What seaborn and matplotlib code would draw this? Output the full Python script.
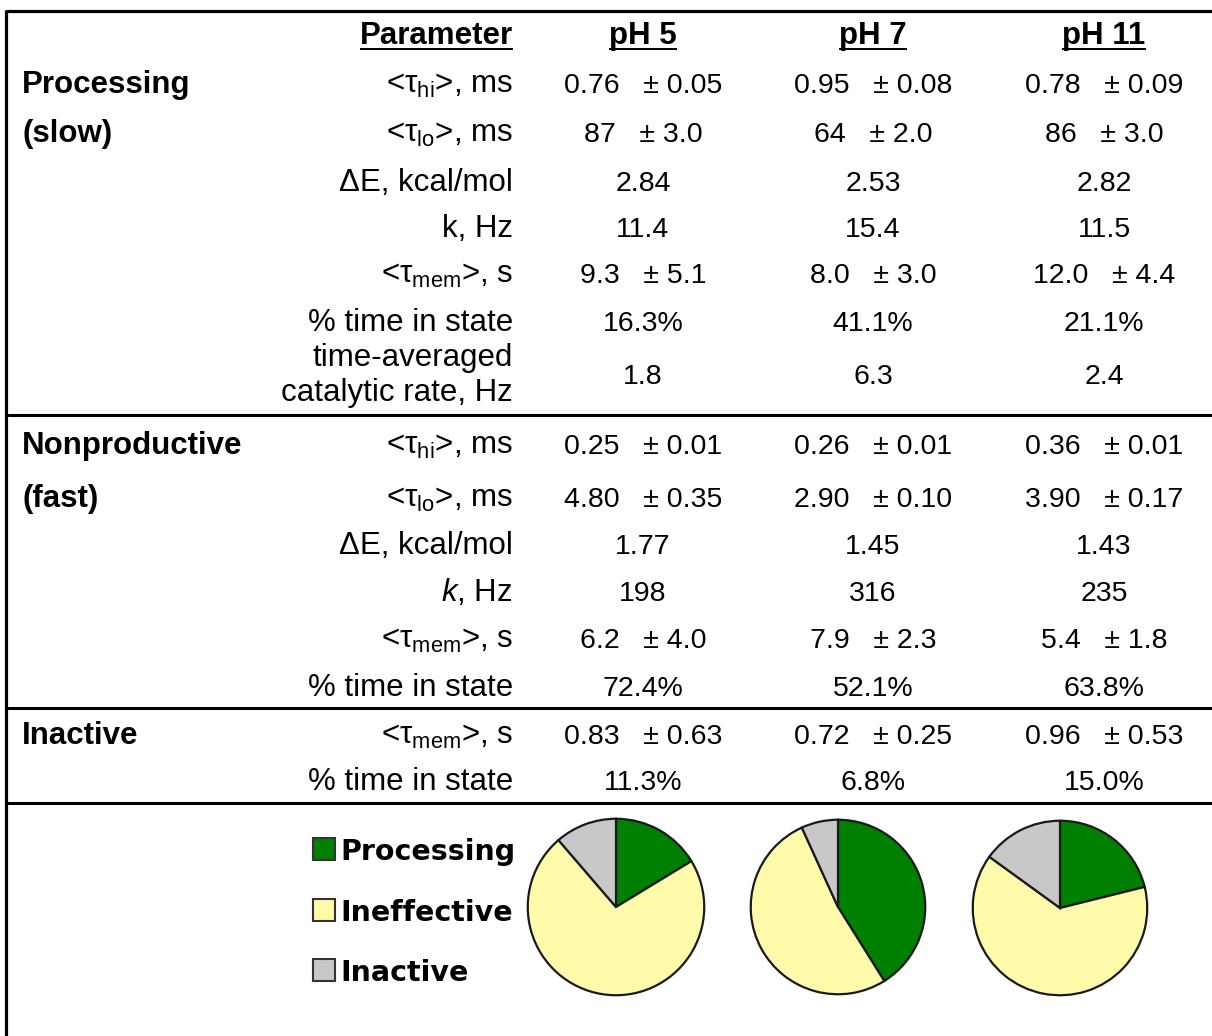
import matplotlib
matplotlib.use("Agg")
import matplotlib.pyplot as plt
from matplotlib import font_manager
from matplotlib.patches import Rectangle
import seaborn as sns

# ---- data -------------------------------------------------------------
ph_labels = ["pH 5", "pH 7", "pH 11"]

proc_tau_hi = [0.76, 0.95, 0.78]
proc_tau_hi_err = [0.05, 0.08, 0.09]
proc_tau_lo = [87, 64, 86]
proc_tau_lo_err = [3.0, 2.0, 3.0]
proc_dE = [2.84, 2.53, 2.82]
proc_k = [11.4, 15.4, 11.5]
proc_tau_mem = [9.3, 8.0, 12.0]
proc_tau_mem_err = [5.1, 3.0, 4.4]
proc_pct = [16.3, 41.1, 21.1]
proc_rate = [1.8, 6.3, 2.4]

nonprod_tau_hi = [0.25, 0.26, 0.36]
nonprod_tau_hi_err = [0.01, 0.01, 0.01]
nonprod_tau_lo = [4.80, 2.90, 3.90]
nonprod_tau_lo_err = [0.35, 0.10, 0.17]
nonprod_dE = [1.77, 1.45, 1.43]
nonprod_k = [198, 316, 235]
nonprod_tau_mem = [6.2, 7.9, 5.4]
nonprod_tau_mem_err = [4.0, 2.3, 1.8]
nonprod_pct = [72.4, 52.1, 63.8]

inactive_tau_mem = [0.83, 0.72, 0.96]
inactive_tau_mem_err = [0.63, 0.25, 0.53]
inactive_pct = [11.3, 6.8, 15.0]

state_names = ["Processing", "Ineffective", "Inactive"]
state_colors = ["#008000", "#FFFBAA", "#C8C8C8"]

# ---- style ------------------------------------------------------------
sns.set_theme(style="white")
available = {f.name for f in font_manager.fontManager.ttflist}
LABEL_FONT = "Liberation Sans"
if "Liberation Sans Narrow" in available:
    VALUE_FONT, VALUE_SIZE = "Liberation Sans Narrow", 22.5
else:
    VALUE_FONT, VALUE_SIZE = "Liberation Sans", 20.5
LABEL_SIZE = 22.5
plt.rcParams["font.family"] = [LABEL_FONT, "DejaVu Sans"]
plt.rcParams["text.color"] = "black"
plt.rcParams["mathtext.fontset"] = "custom"
plt.rcParams["mathtext.rm"] = LABEL_FONT
plt.rcParams["mathtext.it"] = LABEL_FONT + ":italic"
plt.rcParams["mathtext.bf"] = LABEL_FONT + ":bold"
palette = sns.color_palette(state_colors)

W, H = 1212, 1036
fig = plt.figure(figsize=(W / 100, H / 100), dpi=100)
ax = fig.add_axes([0, 0, 1, 1])
ax.set_xlim(0, W)
ax.set_ylim(H, 0)
ax.axis("off")

LABEL_X = 513
GROUP_X = 22
COL_X = [643, 873, 1104]
CAP = 11  # half cap height in px: row centre -> baseline


def cells(vals, errs=None, vfmt=".2f", efmt=".2f", suffix=""):
    out = []
    for i, v in enumerate(vals):
        s = format(v, vfmt) + suffix
        if errs is not None:
            s += "   \u00b1 " + format(errs[i], efmt)
        out.append(s)
    return out


tau = lambda sub: r"<$\mathregular{\tau_{%s}}$>" % sub

rows = [
    (tau("hi") + ", ms", cells(proc_tau_hi, proc_tau_hi_err), 82),
    (tau("lo") + ", ms", cells(proc_tau_lo, proc_tau_lo_err, ".0f", ".1f"), 131),
    ("\u0394E, kcal/mol", cells(proc_dE), 180),
    ("k, Hz", cells(proc_k, None, ".1f"), 226),
    (tau("mem") + ", s", cells(proc_tau_mem, proc_tau_mem_err, ".1f", ".1f"), 272),
    ("% time in state", cells(proc_pct, None, ".1f", suffix="%"), 320),
    (None, cells(proc_rate, None, ".1f"), 373),
    (tau("hi") + ", ms", cells(nonprod_tau_hi, nonprod_tau_hi_err), 443),
    (tau("lo") + ", ms", cells(nonprod_tau_lo, nonprod_tau_lo_err), 496),
    ("\u0394E, kcal/mol", cells(nonprod_dE), 543),
    (r"$\mathit{k}$, Hz", cells(nonprod_k, None, ".0f"), 590),
    (tau("mem") + ", s", cells(nonprod_tau_mem, nonprod_tau_mem_err, ".1f", ".1f"), 637),
    ("% time in state", cells(nonprod_pct, None, ".1f", suffix="%"), 685),
    (tau("mem") + ", s", cells(inactive_tau_mem, inactive_tau_mem_err), 733),
    ("% time in state", cells(inactive_pct, None, ".1f", suffix="%"), 779),
]

groups = [("Processing", 82), ("(slow)", 131), ("Nonproductive", 443),
          ("(fast)", 496), ("Inactive", 733)]

for label, y in groups:
    ax.text(GROUP_X, y + CAP, label, fontsize=LABEL_SIZE, fontweight="bold",
            ha="left", va="baseline", color="black")

for label, vals, y in rows:
    if label is not None:
        ax.text(LABEL_X, y + CAP, label, fontsize=LABEL_SIZE, ha="right",
                va="baseline", color="black")
    for cx, s in zip(COL_X, vals):
        ax.text(cx, y + CAP, s, fontsize=VALUE_SIZE, family=VALUE_FONT,
                ha="center", va="baseline", color="black")

ax.text(LABEL_X, 355 + CAP, "time-averaged", fontsize=LABEL_SIZE,
        ha="right", va="baseline", color="black")
ax.text(LABEL_X, 390 + CAP, "catalytic rate, Hz", fontsize=LABEL_SIZE,
        ha="right", va="baseline", color="black")

# header row with underlines
renderer = fig.canvas.get_renderer()
headers = [(LABEL_X, "right", "Parameter")] + [(cx, "center", p) for cx, p in zip(COL_X, ph_labels)]
inv = ax.transData.inverted()
for x, ha, s in headers:
    t = ax.text(x, 33 + CAP, s, fontsize=LABEL_SIZE, fontweight="bold",
                ha=ha, va="baseline", color="black")
    bb = t.get_window_extent(renderer)
    (x0, _), (x1, _) = inv.transform([(bb.x0, 0), (bb.x1, 0)])
    ax.plot([x0, x1], [49, 49], color="black", lw=1.4, solid_capstyle="butt")

# table rules
ax.plot([6, W], [11, 11], color="black", lw=2.3, solid_capstyle="butt")
ax.plot([6, 6], [10, H], color="black", lw=2.3, solid_capstyle="butt")
for y in (415, 708, 803):
    ax.plot([6, W], [y, y], color="black", lw=2.2, solid_capstyle="butt")

# legend
for (name, col, y) in zip(state_names, palette, (849, 910, 970)):
    ax.add_patch(Rectangle((313, y - 11), 22, 22, facecolor=col,
                           edgecolor="#333333", lw=1.5))
    ax.text(340, y + CAP, name, fontsize=20.5, family="DejaVu Sans",
            fontweight="bold", ha="left", va="baseline", color="black")

# pies
pie_centres = [(616, 907, 90), (838, 907, 89), (1060, 908, 89)]
for i, (cx, cy, r) in enumerate(pie_centres):
    pax = fig.add_axes([(cx - r) / W, 1 - (cy + r) / H, 2 * r / W, 2 * r / H])
    shares = [proc_pct[i], nonprod_pct[i], inactive_pct[i]]
    pax.pie(shares, colors=palette, startangle=90, counterclock=False,
            wedgeprops=dict(edgecolor="#1a1a1a", linewidth=1.6))
    pax.set_xlim(-1.02, 1.02)
    pax.set_ylim(-1.02, 1.02)
    pax.set_aspect("equal")
    pax.axis("off")

fig.savefig("out.png", dpi=100, facecolor="white")
